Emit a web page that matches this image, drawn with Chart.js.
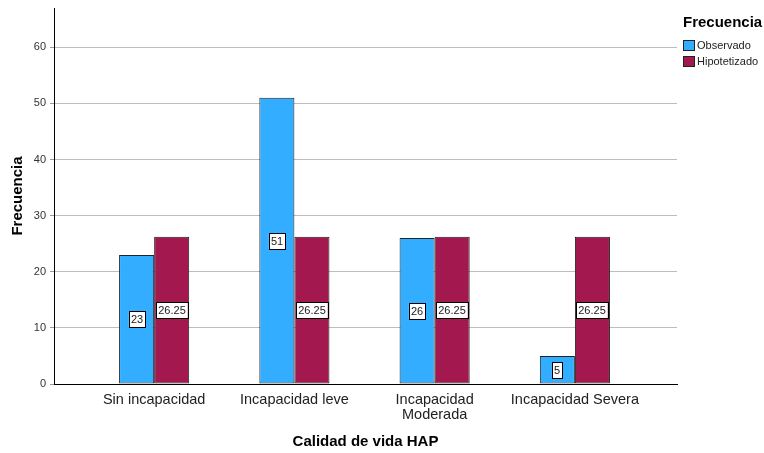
<!DOCTYPE html>
<html>
<head>
<meta charset="utf-8">
<script src="https://cdn.jsdelivr.net/npm/chart.js@4.4.1/dist/chart.umd.min.js"></script>
<style>
  html, body { margin: 0; padding: 0; background: #fff; }
  #wrap { width: 764px; height: 453px; }
</style>
</head>
<body>
<div id="wrap"><canvas id="chart" width="764" height="453"></canvas></div>
<script>
// Datos del gráfico
const categorias = ['Sin incapacidad', 'Incapacidad leve', ['Incapacidad', 'Moderada'], 'Incapacidad Severa'];
const observado = [23, 51, 26, 5];
const hipotetizado = [26.25, 26.25, 26.25, 26.25];
const yTicks = [0, 10, 20, 30, 40, 50, 60];
const seriesNombres = ['Observado', 'Hipotetizado'];
const colores = ['#33adff', '#a2184f'];

const FONT = '"Liberation Sans", Arial, sans-serif';

// Etiquetas con caja blanca en el centro de cada barra
const etiquetasBarras = {
    id: 'etiquetasBarras',
    afterDatasetsDraw(chart) {
        const ctx = chart.ctx;
        ctx.save();
        ctx.font = '11px ' + FONT;
        ctx.textAlign = 'center';
        ctx.textBaseline = 'middle';
        chart.data.datasets.forEach((ds, di) => {
            chart.getDatasetMeta(di).data.forEach((bar, i) => {
                const txt = String(ds.data[i].y);
                const w = ctx.measureText(txt).width + 4;
                const h = 16;
                const cx = Math.round(bar.x);
                const cy = Math.round((bar.y + bar.base) / 2);
                ctx.fillStyle = '#fff';
                ctx.fillRect(cx - w / 2, cy - h / 2, w, h);
                ctx.strokeStyle = '#000';
                ctx.lineWidth = 1;
                ctx.strokeRect(Math.round(cx - w / 2) + 0.5, cy - h / 2 + 0.5, Math.round(w), h);
                ctx.fillStyle = '#222';
                ctx.fillText(txt, cx, cy + 1);
            });
        });
        ctx.restore();
    }
};

// Leyenda a la derecha, estilo SPSS
const leyenda = {
    id: 'leyenda',
    afterDraw(chart) {
        const ctx = chart.ctx;
        ctx.save();
        ctx.textAlign = 'left';
        ctx.textBaseline = 'middle';
        ctx.fillStyle = '#000';
        ctx.font = 'bold 15px ' + FONT;
        ctx.fillText('Frecuencia', 683, 23);
        ctx.font = '11px ' + FONT;
        seriesNombres.forEach((n, i) => {
            const y = 40 + i * 16;
            ctx.fillStyle = colores[i];
            ctx.fillRect(683, y, 12, 11);
            ctx.strokeStyle = '#222';
            ctx.strokeRect(683.5, y + 0.5, 11, 10);
            ctx.fillStyle = '#222';
            ctx.fillText(n, 697, y + 6);
        });
        ctx.restore();
    }
};

new Chart(document.getElementById('chart'), {
    type: 'bar',
    data: {
        datasets: [
            {
                label: seriesNombres[0],
                data: observado.map((v, i) => ({ x: i, y: v })),
                backgroundColor: colores[0],
                borderColor: '#222',
                borderWidth: 1,
                borderSkipped: false
            },
            {
                label: seriesNombres[1],
                data: hipotetizado.map((v, i) => ({ x: i, y: v })),
                backgroundColor: colores[1],
                borderColor: '#222',
                borderWidth: 1,
                borderSkipped: false
            }
        ]
    },
    options: {
        responsive: false,
        animation: false,
        devicePixelRatio: 1,
        categoryPercentage: 0.5,
        barPercentage: 1,
        layout: { padding: { top: 8, right: 87, left: 0, bottom: 0 } },
        plugins: {
            legend: { display: false },
            tooltip: { enabled: false }
        },
        scales: {
            x: {
                type: 'linear',
                offset: false,
                min: -0.714,
                max: 3.728,
                afterBuildTicks: s => { s.ticks = categorias.map((c, i) => ({ value: i })); },
                afterFit: s => { s.height = 69; s.paddingLeft = 0; s.paddingRight = 0; },
                grid: { display: false, drawTicks: false },
                border: { display: true, color: '#000', width: 1 },
                ticks: {
                    padding: 9,
                    font: { family: FONT, size: 14.5, lineHeight: 1 },
                    color: '#222',
                    maxRotation: 0,
                    autoSkip: false,
                    callback: v => categorias[v]
                },
                title: {
                    display: true,
                    text: 'Calidad de vida HAP',
                    font: { family: FONT, size: 15, weight: 'bold' },
                    color: '#000',
                    padding: { top: 0, bottom: 2 }
                }
            },
            y: {
                min: 0,
                max: 67,
                afterBuildTicks: s => { s.ticks = yTicks.map(v => ({ value: v })); },
                afterFit: s => { s.width = 54; s.paddingTop = 0; s.paddingBottom = 0; },
                grid: {
                    drawTicks: true,
                    tickLength: 4,
                    tickColor: '#999',
                    color: ctx => ctx.tick && ctx.tick.value === 0 ? 'rgba(0,0,0,0)' : '#bdbdbd'
                },
                border: { display: true, color: '#000', width: 1 },
                ticks: {
                    padding: 4,
                    font: { family: FONT, size: 11 },
                    color: '#333'
                },
                title: {
                    display: true,
                    text: 'Frecuencia',
                    font: { family: FONT, size: 15, weight: 'bold' },
                    color: '#000',
                    padding: { top: 9, bottom: 0 }
                }
            }
        }
    },
    plugins: [etiquetasBarras, leyenda]
});
</script>
</body>
</html>
